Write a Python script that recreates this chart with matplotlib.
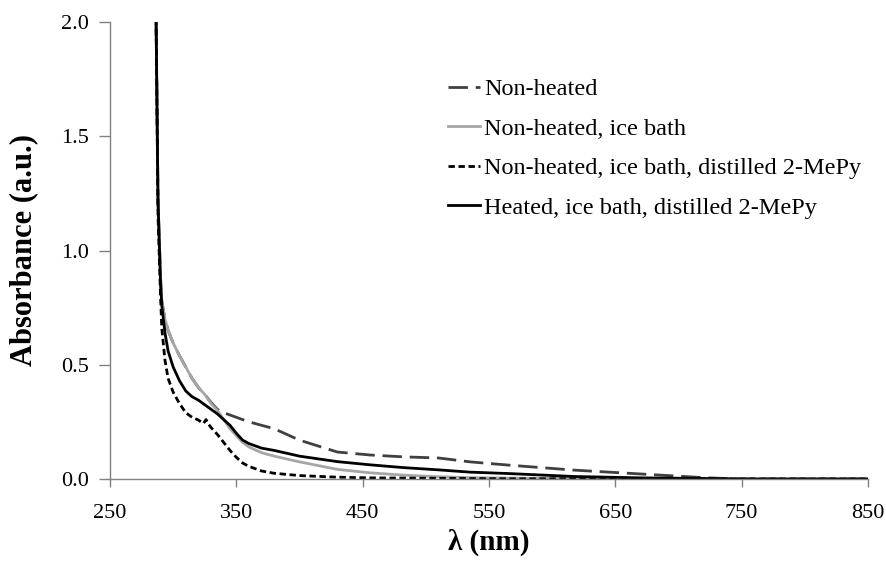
import numpy as np
import matplotlib
matplotlib.use("Agg")
import matplotlib.pyplot as plt

# UV-vis absorbance spectra
wavelength = [284, 286.5, 288, 290, 291, 293.5, 296, 300, 305, 310, 315, 320, 325,
              330, 335, 340, 345, 350, 355, 360, 370, 380, 400, 430, 456, 482,
              510, 535, 565, 617, 670, 723, 750, 800, 850]

non_heated = [2.8, 2.0, 1.22, 0.88, 0.78, 0.70, 0.65, 0.595, 0.54, 0.49, 0.44, 0.40, 0.37,
              0.335, 0.305, 0.29, 0.28, 0.27, 0.26, 0.25, 0.235, 0.22, 0.17, 0.118, 0.105, 0.097,
              0.092, 0.075, 0.061, 0.039, 0.022, 0.005, 0.0, 0.0, 0.0]

ice_bath = [2.8, 2.0, 1.22, 0.88, 0.78, 0.70, 0.65, 0.595, 0.54, 0.49, 0.44, 0.40, 0.37,
            0.33, 0.30, 0.26, 0.22, 0.19, 0.16, 0.14, 0.115, 0.10, 0.075, 0.042, 0.027, 0.017,
            0.010, 0.006, 0.004, 0.002, 0.001, 0.0, 0.0, 0.0, 0.0]

heated = [2.8, 2.0, 1.22, 0.86, 0.76, 0.64, 0.56, 0.49, 0.43, 0.385, 0.36, 0.345, 0.325,
          0.305, 0.285, 0.26, 0.235, 0.20, 0.17, 0.155, 0.135, 0.125, 0.10, 0.076, 0.062, 0.05,
          0.04, 0.03, 0.024, 0.011, 0.005, 0.002, 0.0, 0.0, 0.0]

# distilled sample has a small kink near 325 nm, so it gets its own x points
wl_distilled = [284, 286.5, 288, 290, 291, 293.5, 296, 300, 305, 310, 315, 320, 322, 324,
                326, 328, 330, 335, 340, 345, 350, 355, 360, 370, 380, 400, 430, 456,
                482, 510, 535, 565, 617, 700, 850]
distilled = [2.8, 2.0, 1.15, 0.80, 0.66, 0.52, 0.44, 0.38, 0.33, 0.29, 0.27, 0.258, 0.25, 0.243,
             0.26, 0.24, 0.225, 0.195, 0.16, 0.125, 0.095, 0.07, 0.055, 0.035, 0.025, 0.015, 0.008, 0.005,
             0.004, 0.003, 0.002, 0.001, 0.001, 0.0, 0.0]

labels = ["Non-heated", "Non-heated, ice bath",
          "Non-heated, ice bath, distilled 2-MePy", "Heated, ice bath, distilled 2-MePy"]

plt.rcParams['font.family'] = ['Liberation Serif', 'DejaVu Serif']

fig = plt.figure(figsize=(8.87, 5.67), dpi=100)
ax = fig.add_axes([110/887, 1 - 479/567, 758/887, 457/567])

ax.plot(wavelength, non_heated, color='#404040', lw=2, dashes=(7, 2.8), label=labels[0])
ax.plot(wavelength, ice_bath, color='#a6a6a6', lw=2, label=labels[1])
ax.plot(wl_distilled, distilled, color='black', lw=2, dashes=(2.3, 1.3), label=labels[2])
ax.plot(wavelength, heated, color='black', lw=2, label=labels[3])

ax.set_xlim(250, 850)
ax.set_ylim(0, 2.0)
ax.set_xticks(np.arange(250, 851, 100))
ax.set_yticks(np.arange(0, 2.01, 0.5))
ax.yaxis.set_major_formatter(matplotlib.ticker.FormatStrFormatter('%.1f'))

for s in ['top', 'right']:
    ax.spines[s].set_visible(False)
for s in ['left', 'bottom']:
    ax.spines[s].set_color('#808080')
    ax.spines[s].set_linewidth(1)
ax.tick_params(direction='out', width=1, color='#808080', labelsize=16)
ax.tick_params(axis='y', length=8, pad=7)
ax.tick_params(axis='x', length=6, pad=12)

ax.set_ylabel('Absorbance (a.u.)', fontsize=22, fontweight='bold')
ax.yaxis.set_label_coords(-0.095, 0.5)
ax.set_xlabel('λ (nm)', fontsize=21, fontweight='bold', labelpad=4)

ax.legend(loc='upper left', bbox_to_anchor=(448/887, 1 - 78/567), bbox_transform=fig.transFigure,
          frameon=False, fontsize=17.5, handlelength=1.3, handletextpad=0.2,
          borderpad=0, borderaxespad=0, labelspacing=0.72)

fig.savefig('out.png', dpi=100)
